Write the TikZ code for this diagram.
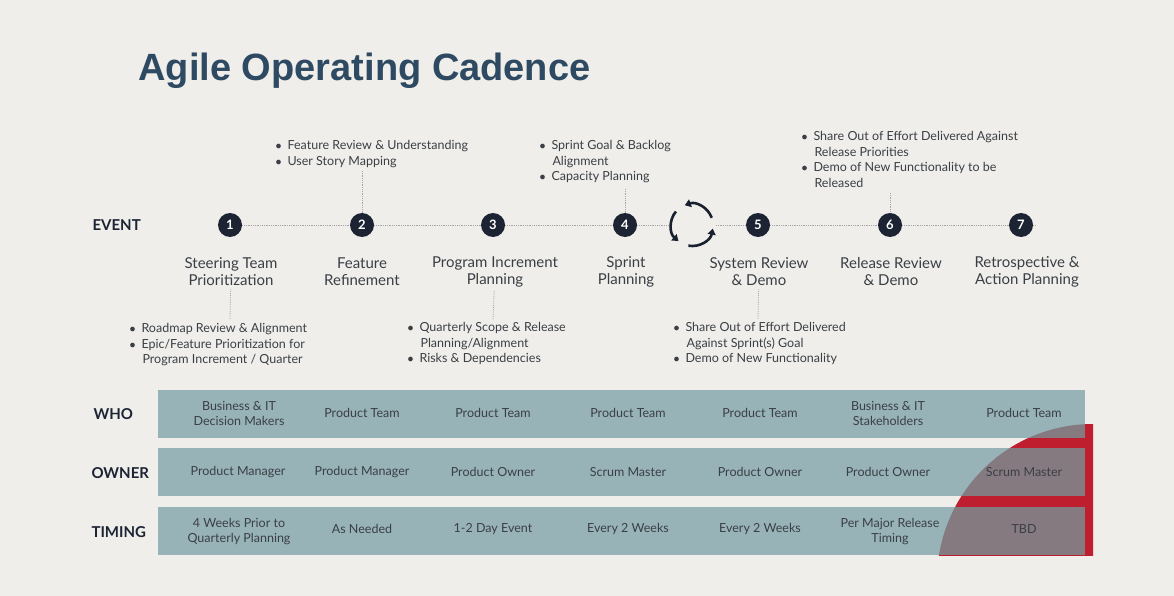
\documentclass[tikz,border=0pt]{standalone}
\usepackage{fontspec}
\setmainfont{Lato}
\newfontfamily\titlefont{Liberation Sans}
\usetikzlibrary{arrows.meta}
\definecolor{bg}{HTML}{EFEEEA}
\definecolor{navy}{HTML}{1C2433}
\definecolor{titlec}{HTML}{2E4A62}
\definecolor{teal}{HTML}{97B3B8}
\definecolor{mauve}{HTML}{857A80}
\definecolor{redc}{HTML}{BE1E2D}
\definecolor{txt}{HTML}{3A3F45}
\begin{document}
\begin{tikzpicture}[x=1pt,y=-1pt,
  num/.style={circle,fill=navy,text=white,minimum size=24pt,inner sep=0pt,font=\fontsize{13}{13}\selectfont\bfseries},
  evlabel/.style={align=center,text=txt,font=\fontsize{15}{17}\selectfont},
  bul/.style={align=left,text=txt,font=\fontsize{12.5}{15.5}\selectfont,anchor=north west},
  rowlab/.style={text=navy,font=\fontsize{15}{15}\selectfont\bfseries,anchor=west},
  cell/.style={align=center,text=txt,font=\fontsize{12.5}{15}\selectfont},
  conn/.style={gray!70,densely dotted,line width=0.8pt}]
\fill[bg] (0,0) rectangle (1174,596);
\useasboundingbox (0,0) rectangle (1174,596);
\node[anchor=west,text=titlec,font=\titlefont\fontsize{38}{38}\selectfont\bfseries] (title) at (135,71) {Agile Operating Cadence};
% red shape
\begin{scope}
\clip (800,380) rectangle (1093,555);
\fill[redc] (1093,580) circle (156);
\end{scope}
% table rows
\foreach \y in {390,448,507}{\fill[teal] (158,\y) rectangle (1085,\y+48);}
\begin{scope}
\clip (1093,580) circle (156);
\foreach \y in {390,448,507}{\fill[mauve] (158,\y) rectangle (1085,\y+48);}
\end{scope}
\node[rowlab] (who) at (90,414) {WHO};
\node[rowlab] (owner) at (88,473) {OWNER};
\node[rowlab] (timing) at (88,532) {TIMING};
% cells
\node[cell] (w1) at (239,413) {Business \& IT\\Decision Makers};
\node[cell] (w2) at (362,413) {Product Team};
\node[cell] (w3) at (493,413) {Product Team};
\node[cell] (w4) at (628,413) {Product Team};
\node[cell] (w5) at (760,413) {Product Team};
\node[cell] (w6) at (888,413) {Business \& IT\\Stakeholders};
\node[cell] (w7) at (1024,413) {Product Team};
\node[cell] (o1) at (238,472) {Product Manager};
\node[cell] (o2) at (362,472) {Product Manager};
\node[cell] (o3) at (493,472) {Product Owner};
\node[cell] (o4) at (628,472) {Scrum Master};
\node[cell] (o5) at (760,472) {Product Owner};
\node[cell] (o6) at (888,472) {Product Owner};
\node[cell] (o7) at (1024,472) {Scrum Master};
\node[cell] (t1) at (239,532) {4 Weeks Prior to\\Quarterly Planning};
\node[cell] (t2) at (362,529) {As Needed};
\node[cell] (t3) at (493,529) {1-2 Day Event};
\node[cell] (t4) at (628,529) {Every 2 Weeks};
\node[cell] (t5) at (760,529) {Every 2 Weeks};
\node[cell] (t6) at (890,532) {Per Major Release\\Timing};
\node[cell] (t7) at (1024,529) {TBD};
% event line
\node[rowlab] (event) at (89,225) {EVENT};
\coordinate (lend) at (1036,225);
\node[num] (n1) at (230,225) {1};
\node[num] (n2) at (362,225) {2};
\node[num] (n3) at (493,225) {3};
\node[num] (n4) at (625,225) {4};
\node[num] (n5) at (758,225) {5};
\node[num] (n6) at (890,225) {6};
\node[num] (n7) at (1021,225) {7};
\coordinate (cyc) at (692,225);
\draw[conn] (n1)--(n2); \draw[conn] (n2)--(n3); \draw[conn] (n3)--(n4);
\draw[conn] (n4)--(668,225); \draw[conn] (716,225)--(n5);
\draw[conn] (n5)--(n6); \draw[conn] (n6)--(n7); \draw[conn] (n7)--(lend);
% cycle icon
\foreach \a in {0,120,240}{
  \draw[line width=2.6pt,navy!90!black,-{Triangle[length=6pt,width=8pt]}] (cyc) ++(\a+100:21) arc (\a+100:\a+10:21);
}
% labels below
\node[evlabel] (l1) at (231,272) {Steering Team\\Prioritization};
\node[evlabel] (l2) at (362,272) {Feature\\Refinement};
\node[evlabel] (l3) at (495,272) {Program Increment\\Planning};
\node[evlabel] (l4) at (626,272) {Sprint\\Planning};
\node[evlabel] (l5) at (759,272) {System Review\\\& Demo};
\node[evlabel] (l6) at (891,272) {Release Review\\\& Demo};
\node[evlabel] (l7) at (1027,272) {Retrospective \&\\Action Planning};
% bullets
\node[bul] (b2) at (272,137) {$\bullet$\hspace{6pt}Feature Review \& Understanding\\$\bullet$\hspace{6pt}User Story Mapping};
\node[bul] (b4) at (536,137) {$\bullet$\hspace{6pt}Sprint Goal \& Backlog\\\hspace{13pt}Alignment\\$\bullet$\hspace{6pt}Capacity Planning};
\node[bul] (b6) at (798,128) {$\bullet$\hspace{6pt}Share Out of Effort Delivered Against\\\hspace{13pt}Release Priorities\\$\bullet$\hspace{6pt}Demo of New Functionality to be\\\hspace{13pt}Released};
\node[bul] (b1) at (126,320) {$\bullet$\hspace{6pt}Roadmap Review \& Alignment\\$\bullet$\hspace{6pt}Epic/Feature Prioritization for\\\hspace{13pt}Program Increment / Quarter};
\node[bul] (b3) at (404,319) {$\bullet$\hspace{6pt}Quarterly Scope \& Release\\\hspace{13pt}Planning/Alignment\\$\bullet$\hspace{6pt}Risks \& Dependencies};
\node[bul] (b5) at (670,319) {$\bullet$\hspace{6pt}Share Out of Effort Delivered\\\hspace{13pt}Against Sprint(s) Goal\\$\bullet$\hspace{6pt}Demo of New Functionality};
% connectors
\draw[conn] (362,171) -- (n2);
\draw[conn] (625,189) -- (n4);
\draw[conn] (890,193) -- (n6);
\draw[conn] (l1) -- (230,320);
\draw[conn] (l3) -- (493,320);
\draw[conn] (l5) -- (758,320);
\end{tikzpicture}
\end{document}
